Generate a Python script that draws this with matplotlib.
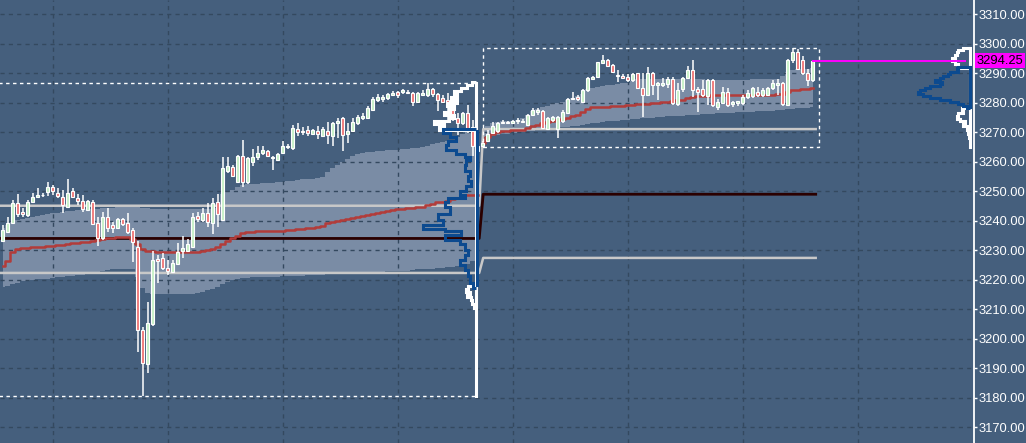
import numpy as np
import matplotlib.pyplot as plt
from matplotlib.patches import Rectangle
from matplotlib.ticker import FormatStrFormatter
from matplotlib.transforms import blended_transform_factory

plt.rcParams['font.family'] = ['Liberation Sans', 'DejaVu Sans']

# 15 minute bars, session 1 = bars 0..95, session 2 = bars 96..162
opens = [
    3233.2, 3236.3, 3239.4, 3245.9, 3243.1, 3241.9, 3246.2, 3248.2, 3248.6, 3249.9,
    3251.3, 3249.5, 3247.9, 3244.8, 3250.2, 3247.6, 3246.8, 3243.6, 3246.5, 3239.1,
    3234.0, 3241.4, 3238.5, 3237.7, 3240.5, 3239.1, 3236.9, 3231.2, 3203.1, 3191.4,
    3205.0, 3227.0, 3227.3, 3223.9, 3222.6, 3225.3, 3229.8, 3229.9, 3231.2, 3241.6,
    3240.3, 3242.8, 3239.1, 3246.5, 3240.3, 3257.0, 3258.1, 3253.3, 3262.0, 3253.3,
    3260.1, 3261.5, 3262.9, 3263.8, 3261.2, 3260.6, 3263.1, 3265.0, 3264.6, 3271.0,
    3270.6, 3270.8, 3269.5, 3270.6, 3268.8, 3270.6, 3268.6, 3273.1, 3274.8, 3269.4,
    3270.5, 3273.1, 3274.8, 3275.0, 3277.6, 3281.0, 3281.3, 3281.6, 3282.7, 3283.8,
    3283.6, 3283.8, 3283.3, 3280.4, 3282.7, 3282.5, 3284.7, 3282.9, 3281.6, 3281.0,
    3280.4, 3274.8, 3273.3, 3276.7, 3271.7, 3265.4,
    3265.2, 3267.2, 3269.8, 3270.3, 3273.2, 3273.6, 3273.3, 3273.8, 3274.0, 3272.5,
    3275.9, 3277.0, 3277.4, 3271.0, 3274.2, 3271.0, 3273.7, 3276.7, 3281.2, 3281.9,
    3280.4, 3284.2, 3288.0, 3288.7, 3293.5, 3294.4, 3292.9, 3289.6, 3289.0, 3288.7,
    3287.6, 3290.1, 3285.0, 3282.7, 3290.1, 3286.0, 3286.2, 3286.4, 3288.0, 3279.6,
    3284.6, 3288.4, 3291.0, 3284.6, 3284.6, 3282.4, 3287.8, 3278.7, 3280.1, 3283.8,
    3279.6, 3280.0, 3280.1, 3281.9, 3282.4, 3283.8, 3282.7, 3282.7, 3285.0, 3286.1,
    3286.7, 3279.3, 3294.4, 3297.1, 3294.6, 3290.1, 3287.6]
highs = [
    3238.6, 3241.4, 3247.0, 3249.1, 3244.2, 3247.1, 3249.3, 3251.0, 3249.5, 3253.3,
    3252.1, 3251.0, 3250.4, 3254.2, 3251.0, 3249.1, 3248.7, 3247.0, 3247.0, 3241.4,
    3243.1, 3244.2, 3239.7, 3240.8, 3241.1, 3242.5, 3237.4, 3233.2, 3204.0, 3212.6,
    3229.8, 3228.4, 3229.0, 3226.7, 3226.7, 3232.4, 3234.8, 3233.7, 3242.8, 3243.1,
    3244.2, 3245.9, 3247.6, 3249.1, 3261.5, 3261.5, 3259.0, 3262.4, 3267.4, 3261.5,
    3264.3, 3265.4, 3265.2, 3264.0, 3262.0, 3263.1, 3266.9, 3266.1, 3272.5, 3273.3,
    3271.9, 3272.2, 3271.0, 3272.2, 3271.9, 3273.4, 3273.6, 3274.8, 3275.3, 3273.1,
    3274.8, 3275.9, 3276.5, 3279.1, 3282.1, 3282.9, 3282.5, 3283.3, 3284.0, 3284.1,
    3284.7, 3284.4, 3283.8, 3283.6, 3284.4, 3286.75, 3285.2, 3283.3, 3282.7, 3283.3,
    3281.6, 3276.5, 3277.0, 3279.3, 3274.2, 3265.7,
    3266.9, 3270.9, 3273.5, 3273.6, 3274.2, 3274.0, 3274.2, 3274.8, 3274.5, 3276.2,
    3278.2, 3278.2, 3277.6, 3275.3, 3275.6, 3275.6, 3277.6, 3281.6, 3283.8, 3282.7,
    3284.6, 3288.7, 3289.1, 3294.0, 3296.3, 3294.8, 3293.2, 3291.2, 3289.8, 3289.8,
    3290.1, 3290.3, 3290.3, 3292.1, 3290.6, 3287.2, 3288.4, 3288.9, 3288.9, 3286.7,
    3288.9, 3292.5, 3294.4, 3285.5, 3287.8, 3288.0, 3288.0, 3281.2, 3285.5, 3285.0,
    3280.8, 3280.8, 3282.7, 3284.2, 3285.5, 3285.3, 3285.0, 3285.5, 3287.6, 3288.0,
    3287.2, 3294.8, 3298.75, 3298.2, 3295.9, 3291.4, 3294.6]
lows = [
    3232.9, 3235.7, 3238.9, 3241.4, 3241.4, 3241.4, 3245.9, 3247.9, 3247.9, 3248.4,
    3248.7, 3247.6, 3242.7, 3244.5, 3247.6, 3245.3, 3243.1, 3243.4, 3238.6, 3231.4,
    3233.4, 3236.3, 3235.7, 3237.4, 3238.2, 3235.5, 3226.1, 3195.6, 3180.5, 3188.2,
    3204.3, 3218.8, 3223.3, 3221.6, 3222.2, 3225.0, 3227.3, 3229.5, 3231.0, 3239.7,
    3239.7, 3238.0, 3235.5, 3238.0, 3240.0, 3256.3, 3254.7, 3252.7, 3251.6, 3252.5,
    3258.7, 3260.6, 3262.3, 3261.8, 3257.2, 3260.4, 3262.7, 3264.3, 3264.0, 3268.8,
    3269.1, 3268.8, 3269.1, 3267.6, 3268.6, 3266.0, 3265.2, 3268.0, 3263.7, 3266.3,
    3270.0, 3272.5, 3274.2, 3274.8, 3277.3, 3280.2, 3280.2, 3281.0, 3282.5, 3281.8,
    3282.9, 3282.9, 3279.1, 3280.2, 3282.5, 3282.1, 3282.1, 3277.3, 3279.9, 3274.2,
    3274.0, 3269.1, 3272.5, 3269.7, 3262.0, 3262.3,
    3265.0, 3266.8, 3269.5, 3269.9, 3272.9, 3272.9, 3272.9, 3272.9, 3273.0, 3272.2,
    3275.6, 3275.9, 3271.0, 3270.8, 3273.6, 3268.0, 3273.1, 3276.3, 3281.0, 3280.8,
    3280.1, 3283.8, 3287.8, 3288.4, 3293.2, 3292.1, 3290.3, 3287.2, 3288.0, 3287.2,
    3287.2, 3284.6, 3275.3, 3282.4, 3282.7, 3281.0, 3285.5, 3285.0, 3279.3, 3279.0,
    3283.8, 3288.0, 3282.1, 3277.0, 3282.1, 3279.3, 3278.7, 3277.6, 3279.9, 3278.7,
    3278.7, 3279.0, 3279.3, 3281.2, 3281.6, 3281.9, 3282.1, 3282.4, 3284.4, 3282.7,
    3279.0, 3279.0, 3293.4, 3291.0, 3289.5, 3285.7, 3287.2]
closes = [
    3236.9, 3239.4, 3246.1, 3242.2, 3242.2, 3246.5, 3248.2, 3248.7, 3248.9, 3251.6,
    3250.2, 3248.4, 3245.3, 3249.5, 3248.2, 3246.8, 3243.9, 3246.8, 3238.9, 3234.0,
    3241.4, 3237.4, 3237.4, 3240.5, 3238.9, 3236.1, 3232.9, 3202.9, 3191.6, 3205.2,
    3226.7, 3226.4, 3223.9, 3222.9, 3225.7, 3229.5, 3230.9, 3232.1, 3241.4, 3240.5,
    3242.8, 3239.7, 3245.9, 3242.3, 3257.8, 3258.6, 3255.2, 3262.0, 3253.3, 3261.2,
    3261.8, 3263.1, 3264.0, 3262.0, 3261.8, 3262.7, 3265.2, 3265.5, 3271.4, 3270.2,
    3270.1, 3269.7, 3270.8, 3269.5, 3271.0, 3269.0, 3273.1, 3273.7, 3269.1, 3270.5,
    3273.6, 3275.3, 3275.7, 3278.2, 3281.3, 3282.1, 3282.1, 3282.9, 3283.3, 3282.5,
    3284.4, 3283.3, 3280.4, 3283.3, 3283.3, 3284.7, 3282.9, 3281.0, 3280.2, 3279.9,
    3274.4, 3273.1, 3276.5, 3271.4, 3265.4, 3263.5,
    3266.5, 3269.4, 3272.0, 3273.2, 3273.6, 3273.3, 3273.8, 3274.2, 3273.6, 3275.9,
    3277.6, 3277.6, 3271.4, 3274.8, 3275.1, 3275.3, 3277.0, 3281.2, 3281.6, 3281.2,
    3284.4, 3288.4, 3288.7, 3293.7, 3294.4, 3292.5, 3290.6, 3289.0, 3288.4, 3287.8,
    3289.8, 3285.0, 3282.7, 3290.3, 3286.1, 3286.6, 3286.9, 3288.0, 3279.9, 3284.2,
    3288.4, 3291.2, 3284.4, 3283.8, 3282.7, 3287.6, 3279.3, 3280.4, 3283.8, 3279.3,
    3280.4, 3280.6, 3281.9, 3283.3, 3285.0, 3282.7, 3284.4, 3285.0, 3286.9, 3286.9,
    3279.6, 3294.4, 3297.1, 3291.4, 3290.1, 3287.6, 3294.25]
session_start = 96

# session VWAP
vwap_s1 = [
    3224.8, 3226.3, 3229.5, 3230.4, 3230.6, 3230.9, 3231.0, 3231.1, 3231.2, 3231.4,
    3231.5, 3231.7, 3231.9, 3232.2, 3232.4, 3232.6, 3232.7, 3232.9, 3233.1, 3233.4,
    3233.9, 3234.2, 3234.3, 3234.4, 3234.4, 3234.4, 3233.8, 3232.0, 3230.4, 3229.8,
    3229.6, 3229.5, 3229.4, 3229.5, 3229.5, 3229.5, 3229.5, 3229.5, 3229.5, 3229.5,
    3229.8, 3230.1, 3230.5, 3231.0, 3232.2, 3233.2, 3234.0, 3235.0, 3235.7, 3236.2,
    3236.3, 3236.4, 3236.5, 3236.6, 3236.6, 3236.6, 3236.6, 3236.8, 3237.0, 3237.1,
    3237.3, 3237.4, 3237.6, 3237.8, 3238.3, 3239.2, 3239.6, 3240.0, 3240.3, 3240.7,
    3241.0, 3241.4, 3241.7, 3242.0, 3242.4, 3242.7, 3243.0, 3243.3, 3243.6, 3243.9,
    3244.1, 3244.2, 3244.4, 3244.6, 3244.8, 3245.3, 3245.8, 3246.2, 3246.5, 3246.8,
    3247.3, 3247.8, 3248.3, 3248.6, 3248.7, 3248.7]
vwap_s2 = [
    3266.5, 3268.5, 3269.5, 3270.2, 3270.4, 3270.6, 3270.7, 3270.8, 3270.9, 3271.6,
    3272.2, 3272.6, 3273.0, 3273.4, 3273.7, 3274.2, 3274.6, 3275.0, 3275.4, 3275.9,
    3276.9, 3277.9, 3278.5, 3278.6, 3278.6, 3278.7, 3278.8, 3279.0, 3279.1, 3279.3,
    3279.4, 3279.5, 3279.6, 3279.7, 3279.9, 3280.0, 3280.2, 3280.4, 3280.6, 3280.9,
    3281.1, 3281.6, 3282.0, 3282.2, 3282.3, 3282.4, 3282.5, 3282.5, 3282.6, 3282.6,
    3282.7, 3282.7, 3282.7, 3282.6, 3282.6, 3282.6, 3282.6, 3282.7, 3282.8, 3282.9,
    3283.0, 3283.6, 3284.2, 3284.4, 3284.7, 3284.8, 3284.9]

# VWAP deviation band
band_up_s1 = [
    3237.5, 3238.5, 3239.5, 3240.2, 3240.6, 3241.0, 3241.3, 3241.6, 3241.9, 3242.2,
    3242.5, 3242.8, 3243.0, 3243.2, 3243.4, 3243.6, 3243.8, 3243.9, 3244.0, 3244.1,
    3244.2, 3244.3, 3244.4, 3244.5, 3244.6, 3244.7, 3244.8, 3244.6, 3244.4, 3244.2,
    3244.1, 3244.0, 3244.0, 3244.0, 3244.0, 3244.0, 3244.0, 3244.0, 3244.0, 3244.0,
    3244.0, 3244.0, 3244.1, 3244.2, 3249.0, 3249.8, 3250.6, 3251.4, 3252.0, 3252.4,
    3252.5, 3252.6, 3252.7, 3252.8, 3252.9, 3253.0, 3253.2, 3253.4, 3253.6, 3253.8,
    3254.0, 3254.1, 3254.2, 3254.4, 3255.0, 3256.5, 3258.0, 3259.0, 3260.0, 3261.0,
    3262.0, 3262.6, 3263.0, 3263.2, 3263.4, 3263.6, 3263.8, 3263.9, 3264.0, 3264.1,
    3264.2, 3264.4, 3264.6, 3264.8, 3265.0, 3265.5, 3266.0, 3266.5, 3266.8, 3267.0,
    3267.5, 3268.5, 3269.5, 3270.3, 3271.0, 3271.4]
band_lo_s1 = [
    3217.6, 3218.0, 3218.5, 3219.0, 3219.4, 3219.7, 3219.9, 3220.1, 3220.2, 3220.4,
    3220.6, 3220.8, 3221.0, 3221.2, 3221.4, 3221.5, 3221.7, 3222.0, 3222.3, 3222.7,
    3223.0, 3223.3, 3223.5, 3223.6, 3223.7, 3223.8, 3223.6, 3221.0, 3217.3, 3215.5,
    3215.3, 3215.3, 3215.3, 3215.3, 3215.3, 3215.3, 3215.3, 3215.3, 3215.3, 3215.6,
    3216.0, 3216.5, 3217.0, 3217.6, 3218.5, 3219.2, 3219.8, 3220.3, 3220.6, 3220.7,
    3220.8, 3220.8, 3220.9, 3220.9, 3221.0, 3221.0, 3221.1, 3221.2, 3221.3, 3221.3,
    3221.4, 3221.5, 3221.6, 3221.7, 3221.7, 3221.8, 3221.9, 3222.0, 3222.1, 3222.2,
    3222.2, 3222.3, 3222.4, 3222.5, 3222.5, 3222.6, 3222.7, 3222.8, 3222.9, 3222.9,
    3223.0, 3223.1, 3223.2, 3223.5, 3223.6, 3223.7, 3223.8, 3223.9, 3224.0, 3224.2,
    3224.4, 3224.7, 3225.0, 3225.5, 3226.5, 3227.3]
band_up_s2 = [
    3271.0, 3272.0, 3273.0, 3273.6, 3273.7, 3273.8, 3274.0, 3274.1, 3275.0, 3276.0,
    3277.2, 3277.8, 3278.5, 3279.0, 3279.5, 3279.9, 3280.4, 3281.0, 3281.6, 3282.3,
    3283.1, 3284.6, 3285.1, 3285.5, 3285.7, 3285.9, 3286.2, 3286.4, 3286.6, 3286.8,
    3287.3, 3288.0, 3288.0, 3288.1, 3288.1, 3288.2, 3288.2, 3288.2, 3288.2, 3288.1,
    3288.1, 3288.0, 3288.0, 3288.0, 3288.0, 3287.9, 3287.9, 3287.9, 3287.9, 3287.9,
    3287.9, 3287.9, 3287.9, 3287.9, 3288.0, 3288.0, 3288.0, 3288.0, 3288.0, 3288.0,
    3289.0, 3290.4, 3291.0, 3291.4, 3291.5, 3291.6, 3291.7]
band_lo_s2 = [
    3268.5, 3268.7, 3268.9, 3269.1, 3269.3, 3269.5, 3269.7, 3269.9, 3270.1, 3270.3,
    3270.5, 3270.7, 3270.9, 3271.1, 3271.3, 3271.5, 3271.7, 3271.9, 3272.1, 3272.3,
    3272.6, 3272.9, 3273.1, 3273.3, 3273.5, 3273.7, 3273.9, 3274.0, 3274.2, 3274.3,
    3274.5, 3274.6, 3274.8, 3274.9, 3275.0, 3275.1, 3275.2, 3275.4, 3275.5, 3275.6,
    3275.7, 3275.8, 3275.9, 3276.0, 3276.1, 3276.2, 3276.3, 3276.4, 3276.5, 3276.6,
    3276.7, 3276.8, 3276.9, 3277.0, 3277.0, 3277.1, 3277.2, 3277.3, 3277.4, 3277.5,
    3277.6, 3277.8, 3278.0, 3278.1, 3278.2, 3278.4, 3278.5]

# levels per session (session 1, session 2)
poc_levels = [3234.0, 3249.0]
va_high = [3245.1, 3271.1]
va_low = [3222.3, 3227.4]
sess_high = [3286.75, 3298.75]
sess_low = [3180.5, 3265.0]
last_price = 3294.25

# session 1 profile (width in px)
s1_tpo_top_p = [3286.6, 3285.6, 3284.6, 3283.6, 3282.6, 3281.5, 3280.5, 3279.5,
                3278.5, 3277.5, 3276.5, 3275.2, 3274.2, 3273.2, 3272.2, 3271.2]
s1_tpo_top_w = [4, 9, 15, 22, 19, 25, 19, 29, 22, 27, 32, 22, 27, 42, 32, 37]
s1_vol_p = [3270.5, 3269.1, 3267.4, 3266.4, 3264.7, 3263.3, 3262.3, 3261.3, 3259.6,
            3257.9, 3256.2, 3254.5, 3252.8, 3251.1, 3249.4, 3248.1, 3247.1, 3245.4,
            3243.7, 3240.9, 3239.6, 3237.5, 3236.9, 3235.9, 3234.2, 3232.8, 3231.1,
            3229.1, 3227.4, 3226.0, 3224.3, 3222.3, 3219.9, 3218.2]
s1_vol_w = [33, 26, 20, 28, 30, 20, 11, 6, 10, 11, 6, 8, 5, 10, 16, 11, 28, 31,
            26, 38, 33, 53, 31, 15, 31, 16, 11, 8, 11, 16, 11, 8, 6, 3]
s1_tpo_bot_p = [3217.5, 3216.5, 3215.5, 3214.5, 3213.5, 3212.4, 3211.0]
s1_tpo_bot_w = [8, 10, 6, 9, 5, 4, 2]

# current session profile on the right
s2_tpo_top_p = [3298.3, 3297.6, 3296.6, 3295.6, 3294.6, 3293.6, 3292.5]
s2_tpo_top_w = [7, 12, 13, 15, 18, 15, 12]
s2_vol_p = [3292.0, 3291.5, 3290.8, 3290.2, 3289.5, 3288.8, 3288.1, 3287.4, 3286.8,
            3286.1, 3285.4, 3284.7, 3284.0, 3283.4, 3282.7, 3282.0, 3281.3, 3280.7,
            3280.0, 3279.3, 3278.6]
s2_vol_w = [12, 13, 12, 20, 22, 27, 30, 35, 28, 30, 40, 45, 50, 52, 47, 40, 30,
            20, 12, 7, 3]
s2_tpo_bot_p = [3277.9, 3276.9, 3275.9, 3274.9, 3274.2, 3273.5, 3272.5, 3271.5, 3270.1, 3268.8]
s2_tpo_bot_w = [8, 7, 12, 13, 10, 5, 7, 3, 2, 1]

BG = '#455f7d'
BAND = '#7a8ca5'
GRID = '#34495f'
UP = '#c8f2c8'
DOWN = '#f07a7a'
BLUE = '#0c4a8f'

n = len(opens)
x = np.arange(n)
o = np.array(opens); h = np.array(highs); l = np.array(lows); c = np.array(closes)
s1 = np.arange(0, session_start)
s2 = np.arange(session_start, n)

fig = plt.figure(figsize=(10.26, 4.43), dpi=100, facecolor=BG)
ax = fig.add_axes([0, 0, 973.5 / 1026, 1])
ax.set_facecolor(BG)
ax.set_xlim(-0.54, 194.16)
ax.set_ylim(3164.6, 3314.9)

# grid
for yv in range(3170, 3311, 10):
    ax.axhline(yv, color=GRID, lw=1, ls=(0, (3, 3)), zorder=1.5)
for xv in np.arange(10.06, 194, 23):
    ax.axvline(xv, color=GRID, lw=1, ls=(0, (3, 3)), zorder=1.5)

# band
ax.fill_between(s1, band_lo_s1, band_up_s1, step='mid', color=BAND, lw=0, zorder=1)
ax.fill_between(s2, band_lo_s2, band_up_s2, step='mid', color=BAND, lw=0, zorder=1)

# session levels
lx = [-1, session_start - 0.7, session_start + 0.1, n - 0.4]
ax.plot(lx, [va_high[0], va_high[0], va_high[1], va_high[1]], color='#c8c8c8', lw=1.8, zorder=2)
ax.plot(lx, [va_low[0], va_low[0], va_low[1], va_low[1]], color='#c8c8c8', lw=1.8, zorder=2)
ax.plot(lx, [poc_levels[0], poc_levels[0], poc_levels[1], poc_levels[1]], color='#2a0000', lw=2.0, zorder=2)

# vwap
ax.plot(s1, vwap_s1, color='#b23c3a', lw=1.8, drawstyle='steps-mid', zorder=2.5)
ax.plot(s2, vwap_s2, color='#b23c3a', lw=1.8, drawstyle='steps-mid', zorder=2.5)

# candles
ax.vlines(x, l, h, color='white', lw=1.1, zorder=3)
body_lo = np.minimum(o, c)
body_h = np.maximum(np.abs(c - o), 0.3)
cols = np.where(c >= o, UP, DOWN)
ax.bar(x, body_h, bottom=body_lo, width=0.62, color=cols, edgecolor='white', linewidth=0.8, zorder=4)

# dashed session ranges
ax.add_patch(Rectangle((-1, sess_low[0]), 95.7, sess_high[0] - sess_low[0], fill=False,
                       ec='white', lw=1, ls=(0, (2.5, 2.5)), zorder=4.5))
ax.add_patch(Rectangle((session_start + 0.15, sess_low[1]), n - 0.2 - session_start - 0.15 + 0.4,
                       sess_high[1] - sess_low[1], fill=False, ec='white', lw=1,
                       ls=(0, (2.5, 2.5)), zorder=4.5))


def draw_profile(prices, widths, spine, color):
    p = np.array(prices)[::-1]
    w = np.array(widths, dtype=float)[::-1] / 5.0
    mids = (p[1:] + p[:-1]) / 2
    edges = np.concatenate([[p[0] - (mids[0] - p[0])], mids, [p[-1] + (p[-1] - mids[-1])]])
    ax.stairs(spine - w, edges, orientation='horizontal', baseline=spine,
              color=color, lw=2.2, zorder=5)


sp1 = 94.7
ax.plot([sp1, sp1], [sess_low[0], sess_high[0]], color='white', lw=2.2, zorder=5)
draw_profile(s1_tpo_top_p, s1_tpo_top_w, sp1, 'white')
draw_profile(s1_tpo_bot_p, s1_tpo_bot_w, sp1, 'white')
draw_profile(s1_vol_p, s1_vol_w, sp1, BLUE)
ax.plot([sp1 + 0.2, sp1 + 0.2], [s1_vol_p[-1], s1_vol_p[0]], color=BLUE, lw=2.2, zorder=5.1)

sp2 = 193.46
ax.plot([sp2, sp2], [sess_low[1], sess_high[1]], color='white', lw=2.2, zorder=5)
draw_profile(s2_tpo_top_p, s2_tpo_top_w, sp2, 'white')
draw_profile(s2_tpo_bot_p, s2_tpo_bot_w, sp2, 'white')
draw_profile(s2_vol_p, s2_vol_w, sp2, BLUE)
ax.plot([sp2, sp2], [s2_vol_p[-1], s2_vol_p[0]], color=BLUE, lw=2.2, zorder=5.1)

# last price
ax.plot([n - 1, 192.5], [last_price, last_price], color='#ff00ff', lw=1.4, zorder=6)
trans = blended_transform_factory(ax.transAxes, ax.transData)
ax.text(1.0035, last_price, f'{last_price:.2f}', transform=trans, ha='left', va='center',
        fontsize=9.3, color='black', clip_on=False, zorder=10,
        bbox=dict(boxstyle='square,pad=0.12', fc='#ff00ff', ec='none'))

# axes styling
for s in ['top', 'left', 'bottom']:
    ax.spines[s].set_visible(False)
ax.spines['right'].set_color('white')
ax.spines['right'].set_linewidth(1.3)
ax.yaxis.tick_right()
ax.set_yticks(range(3170, 3311, 10))
ax.yaxis.set_major_formatter(FormatStrFormatter('%.2f'))
ax.tick_params(axis='y', colors='white', labelcolor='white', labelsize=9.3,
               length=2.5, width=1, pad=1.2, direction='out')
ax.set_xticks([])

fig.savefig('out.png', dpi=100, facecolor=BG)
